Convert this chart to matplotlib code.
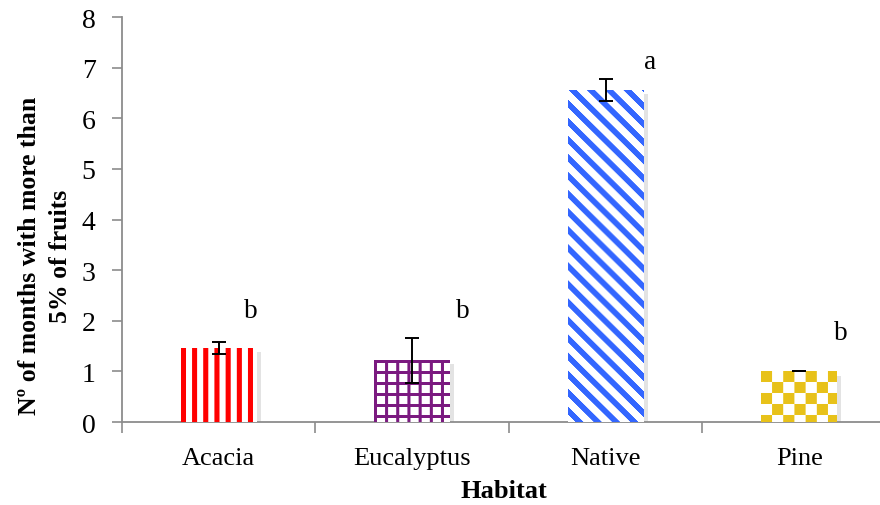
import numpy as np
import matplotlib
matplotlib.use("Agg")
import matplotlib.pyplot as plt
import matplotlib.patheffects as pe

# ===============================
# data
# ===============================
habitats = ["Acacia", "Eucalyptus", "Native", "Pine"]
months = [1.46, 1.22, 6.56, 1.0]
errors = [0.12, 0.44, 0.22, 0.0]
letters = ["b", "b", "a", "b"]
letter_y = [2.07, 2.07, 7.0, 1.64]

# style
letter_dx = [0.165, 0.262, 0.229, 0.215]
patterns = ["vert", "grid", "diag", "check"]
colors = ["#ff0000", "#7b1a80", "#3366ff", "#e8c21a"]

plt.rcParams["font.family"] = ["Liberation Serif", "DejaVu Serif"]
axis_gray = "#8c8c8c"


def make_texture(kind, color, w, h):
    rgb = np.array(matplotlib.colors.to_rgb(color))
    yy, xx = np.mgrid[0:h, 0:w]
    if kind == "vert":
        mask = (xx % 11) < 5
    elif kind == "grid":
        mask = ((xx % 11) < 3) | ((yy % 11) < 3)
    elif kind == "diag":
        mask = ((xx - yy) % 18) < 8
    else:
        mask = ((xx // 11 + yy // 11) % 2) == 0
    img = np.ones((h, w, 3))
    img[mask] = rgb
    return img


fig = plt.figure(figsize=(8.8, 5.06), dpi=100)
ax = fig.add_axes([0.1386, 0.164, 0.8795, 0.8004])

x = np.arange(len(habitats))
ax.set_xlim(-0.5, 3.5)
ax.set_ylim(0, 8)

bars = ax.bar(x, months, width=0.39, color="white", edgecolor="none", zorder=2,
              path_effects=[pe.SimplePatchShadow(offset=(3, -3), shadow_rgbFace="gray", alpha=0.22),
                            pe.Normal()])

# 棒の中を模様で塗る
for b, kind, col in zip(bars, patterns, colors):
    x0, y0 = b.get_x(), b.get_y()
    x1, y1 = x0 + b.get_width(), y0 + b.get_height()
    p0 = ax.transData.transform((x0, y0))
    p1 = ax.transData.transform((x1, y1))
    w_px = max(int(round(p1[0] - p0[0])), 1)
    h_px = max(int(round(p1[1] - p0[1])), 1)
    img = make_texture(kind, col, w_px, h_px)
    im = ax.imshow(img, extent=(x0, x1, y0, y1), origin="upper", aspect="auto",
                   interpolation="antialiased", zorder=3)
    im.set_clip_path(b)

ax.errorbar(x, months, yerr=errors, fmt="none", ecolor="black",
            elinewidth=1.4, capsize=5, capthick=1.4, zorder=5)

for i, (lt, ly) in enumerate(zip(letters, letter_y)):
    ax.text(i + letter_dx[i], ly, lt, ha="center", va="baseline", fontsize=19.5)

# 軸
for s in ["top", "right"]:
    ax.spines[s].set_visible(False)
for s in ["left", "bottom"]:
    ax.spines[s].set_color(axis_gray)
    ax.spines[s].set_linewidth(1.3)

ax.set_yticks(range(0, 9))
ax.tick_params(axis="y", direction="out", length=7, width=1.2, color=axis_gray,
               labelsize=20, pad=12)

ax.set_xticks(np.arange(-0.5, 4.0, 1.0))
ax.set_xticklabels([])
ax.set_xticks(x, minor=True)
ax.set_xticklabels(habitats, minor=True)
ax.tick_params(axis="x", which="major", direction="out", length=8, width=1.2, color=axis_gray)
ax.tick_params(axis="x", which="minor", length=0, labelsize=19, pad=18)

fig.text(45 / 880, 1 - 256 / 506, "Nº of months with more than\n5% of fruits",
         rotation=90, ha="center", va="center", fontsize=18.5, fontweight="bold",
         linespacing=1.45)
fig.text(504 / 880, 1 - 492 / 506, "Habitat", ha="center", va="center",
         fontsize=19, fontweight="bold")

fig.savefig("out.png", dpi=100)
